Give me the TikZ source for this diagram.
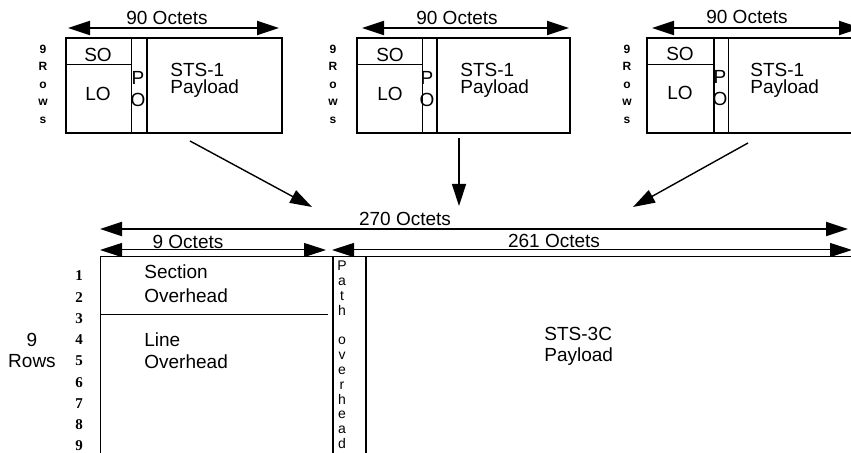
\documentclass[tikz,border=0pt]{standalone}
\usepackage{fontspec}
\setmainfont{Liberation Sans}
\newfontfamily\rownumfont{Liberation Serif}
\usetikzlibrary{arrows.meta,positioning,calc}
\tikzset{
 frame/.style={draw, line width=1pt},
 divider/.style={draw, line width=0.5pt},
 bar/.style={draw, line width=1.4pt},
 lbl/.style={inner sep=0pt, font=\fontsize{9.5}{9.5}\selectfont},
 lbltwo/.style={lbl, align=left, anchor=north west},
 dimthick/.style={{Triangle[length=11pt,width=7pt]}-{Triangle[length=11pt,width=7pt]}, line width=1pt},
 dimthin/.style={{Triangle[length=11pt,width=7pt]}-{Triangle[length=11pt,width=7pt]}, line width=0.5pt},
 feed/.style={-{Triangle[length=11pt,width=7pt]}, line width=0.7pt},
 rowsvert/.style={inner sep=0pt, align=center, font=\fontsize{6}{8.75}\selectfont\bfseries},
 pathtxt/.style={inner sep=0pt, align=center, font=\fontsize{7}{7.4}\selectfont},
 rownum/.style={inner sep=0pt, font=\rownumfont\fontsize{7.5}{7.5}\selectfont\bfseries}
}

\begin{document}
\begin{tikzpicture}[x=0.5pt,y=-0.5pt]
\useasboundingbox (0,0) rectangle (851,453);
\clip (0,0) rectangle (851,453);

% three STS-1 frames
\draw[frame] (66,38) rectangle (282,133);
\draw[divider] (66,65) -- (131,65);
\draw[divider] (131,38) -- (131,133);
\draw[bar] (147,38) -- (147,133);
\node[lbl] (soA) at (98,55) {SO};
\node[lbl] (loA) at (98,94) {LO};
\node[lbl, align=center, font=\fontsize{9.5}{11}\selectfont] (poA) at (138,89) {P\\O};
\node[lbltwo, font=\fontsize{9.5}{8.5}\selectfont] (payA) at (170,63) {STS-1\\Payload};
\node[rowsvert] (rowsA) at (43,84) {9\\R\\o\\w\\s};
\coordinate (octA-l) at (68,28);
\coordinate (octA-r) at (279,28);
\draw[dimthick] (octA-l) -- (octA-r);
\node[lbl] (octA) at (167,18) {90 Octets};

\draw[frame] (357,38) rectangle (570,133);
\draw[divider] (357,65) -- (422,65);
\draw[divider] (422,38) -- (422,133);
\draw[bar] (437,38) -- (437,133);
\node[lbl] (soB) at (390,55) {SO};
\node[lbl] (loB) at (390,94) {LO};
\node[lbl, align=center, font=\fontsize{9.5}{11}\selectfont] (poB) at (427,89) {P\\O};
\node[lbltwo, font=\fontsize{9.5}{8.5}\selectfont] (payB) at (460,63) {STS-1\\Payload};
\node[rowsvert] (rowsB) at (333,84) {9\\R\\o\\w\\s};
\coordinate (octB-l) at (362,28);
\coordinate (octB-r) at (569,28);
\draw[dimthick] (octB-l) -- (octB-r);
\node[lbl] (octB) at (457,18) {90 Octets};

\draw[frame] (647,38) rectangle (860,133);
\draw[divider] (647,65) -- (713,65);
\draw[bar] (714,38) -- (714,133);
\draw[divider] (728,38) -- (728,133);
\node[lbl] (soC) at (680,54) {SO};
\node[lbl] (loC) at (680,93) {LO};
\node[lbl, align=center, font=\fontsize{9.5}{11}\selectfont] (poC) at (720,88) {P\\O};
\node[lbltwo, font=\fontsize{9.5}{8.5}\selectfont] (payC) at (750,63) {STS-1\\Payload};
\node[rowsvert] (rowsC) at (627,84) {9\\R\\o\\w\\s};
\coordinate (octC-l) at (652,28);
\coordinate (octC-r) at (861,28);
\draw[dimthick] (octC-l) -- (octC-r);
\node[lbl] (octC) at (747,17) {90 Octets};

% feeds into the STS-3C frame
\coordinate (tailA) at (190,141);
\coordinate (tipA) at (312,207);
\coordinate (tailB) at (459,138);
\coordinate (tipB) at (459,206);
\coordinate (tailC) at (748,143);
\coordinate (tipC) at (633,207);
\draw[feed] (tailA) -- (tipA);
\draw[feed] (tailB) -- (tipB);
\draw[feed] (tailC) -- (tipC);

% STS-3C frame
\draw[divider] (100,257) -- (860,257);
\draw[divider] (100,257) -- (100,460);
\draw[divider] (100,315) -- (328,315);
\draw[bar] (333,257) -- (333,460);
\draw[bar] (366,257) -- (366,460);

\coordinate (tot-l) at (100,229);
\coordinate (tot-r) at (848,229);
\draw[dimthick] (tot-l) -- (tot-r);
\node[lbl] (tot) at (405,219) {270 Octets};

\coordinate (soh-l) at (100,250);
\coordinate (soh-r) at (326,250);
\draw[dimthin] (soh-l) -- (soh-r);
\node[lbl] (soh) at (188,242) {9 Octets};

\coordinate (spe-l) at (332,250);
\coordinate (spe-r) at (852,250);
\draw[dimthin] (spe-l) -- (spe-r);
\node[lbl] (spe) at (554,241) {261 Octets};

\node[lbltwo, font=\fontsize{9.5}{12}\selectfont] (secoh) at (144,264) {Section\\Overhead};
\node[lbltwo, font=\fontsize{9.5}{11}\selectfont] (lineoh) at (144,332) {Line\\Overhead};
\node[lbltwo, font=\fontsize{9.5}{10.5}\selectfont] (pay3c) at (544,327) {STS-3C\\Payload};
\node[lbl, align=center, anchor=north, font=\fontsize{9.5}{10.5}\selectfont] (rows) at (32,333) {9\\Rows};
\node[pathtxt] (pathoh) at (342,355) {P\\a\\t\\h\\~\\o\\v\\e\\r\\h\\e\\a\\d};
\foreach \r in {1,...,9}
  \node[rownum] (row\r) at (79,{276+21.25*(\r-1)}) {\r};
\end{tikzpicture}
\end{document}
